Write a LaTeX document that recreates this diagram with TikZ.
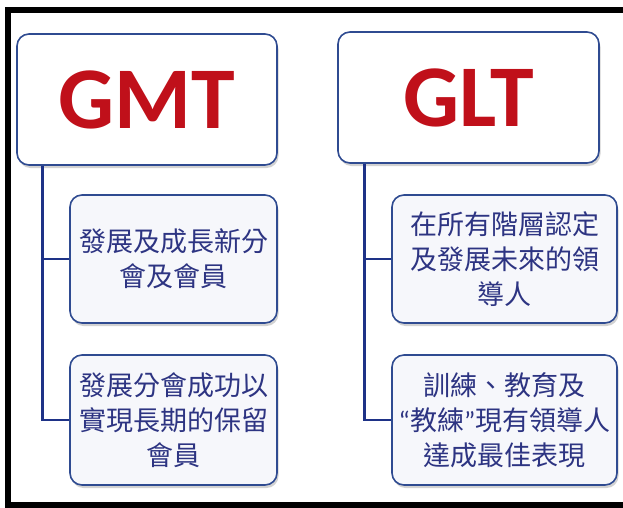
\documentclass[tikz,border=0pt]{standalone}
\usepackage{fontspec}
\setmainfont{Carlito}
\newfontfamily\cjk{Noto Sans CJK TC}
\usetikzlibrary{shadows}
\definecolor{boxblue}{RGB}{47,75,145}
\definecolor{linkblue}{RGB}{30,50,135}
\definecolor{titlered}{RGB}{192,16,26}
\definecolor{textblue}{RGB}{45,52,130}
\definecolor{subfill}{RGB}{246,247,251}
\newcommand{\latinq}[1]{{\rmfamily #1}}

\begin{document}
\begin{tikzpicture}[x=1pt, y=-1pt,
  headbox/.style={draw=boxblue, line width=1.6pt, rounded corners=12pt, fill=white,
    drop shadow={shadow xshift=1.5pt, shadow yshift=-3pt, fill=black!35},
    text=titlered, font=\fontsize{88}{90}\selectfont\bfseries},
  itembox/.style={draw=boxblue, line width=1.6pt, rounded corners=12pt, fill=subfill,
    drop shadow={shadow xshift=1.5pt, shadow yshift=-3pt, fill=black!35},
    text=textblue, align=center, inner sep=0pt, font=\cjk\fontsize{27}{35}\selectfont},
  link/.style={draw=linkblue, line width=2.8pt}]
\useasboundingbox (0,0) rectangle (623,507);
% Frame
\draw[line width=6pt, line cap=butt] (623,10) -- (8,10) -- (8,504.5) -- (623,504.5);

% Header row
\node[headbox, minimum width=260pt, minimum height=131pt] (gmt) at (147,99.5) {GMT};
\node[headbox, minimum width=261pt, minimum height=131pt] (glt) at (468.5,97.5) {GLT};

% GMT items
\node[itembox, minimum width=207pt, minimum height=128pt] (gmta) at (173.5,259) {發展及成長新分\\會及會員};
\node[itembox, minimum width=207pt, minimum height=130pt] (gmtb) at (173.5,420) {發展分會成功以\\實現長期的保留\\會員};

% GLT items
\node[itembox, minimum width=225pt, minimum height=128pt] (glta) at (504.5,259) {在所有階層認定\\及發展未來的領\\導人};
\node[itembox, minimum width=225pt, minimum height=130pt] (gltb) at (504.5,420) {訓練、教育及\\\latinq{“}教練\latinq{”}現有領導人\\達成最佳表現};

% Links
\draw[link] ([xshift=26pt]gmt.south west) |- (gmta.west);
\draw[link] ([xshift=26pt]gmt.south west) |- (gmtb.west);
\draw[link] ([xshift=27pt]glt.south west) |- (glta.west);
\draw[link] ([xshift=27pt]glt.south west) |- (gltb.west);
\end{tikzpicture}
\end{document}
